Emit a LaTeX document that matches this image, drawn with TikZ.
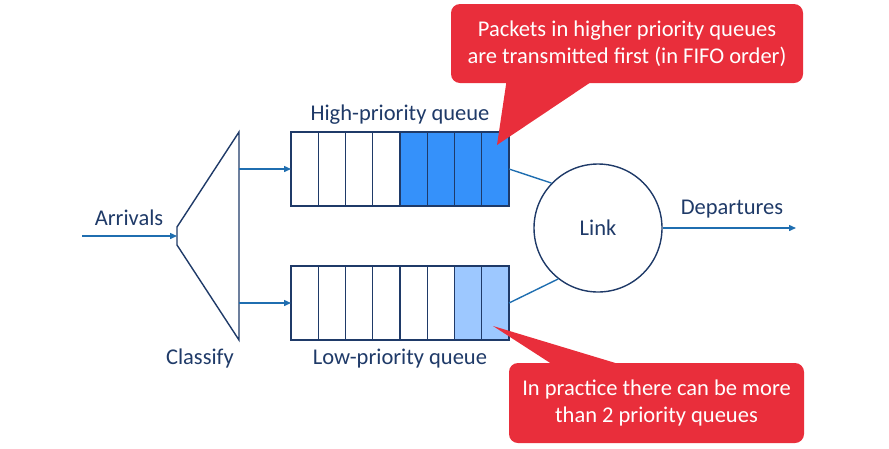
\documentclass[tikz,border=0pt]{standalone}
\usepackage{fontspec}
\setmainfont{Carlito}
\usetikzlibrary{positioning, arrows.meta, calc}
\definecolor{QueueNavy}{HTML}{1F3A68}
\definecolor{FlowBlue}{HTML}{1F6EB0}
\definecolor{HighBlue}{HTML}{3591FA}
\definecolor{LowBlue}{HTML}{9DC8FF}
\definecolor{NoteRed}{HTML}{E92E3B}

\begin{document}
\begin{tikzpicture}[
    x=1pt, y=-1pt,
    cell/.style={rectangle, draw=QueueNavy, line width=1.4pt, minimum width=27.25pt,
                 minimum height=74pt, inner sep=0pt, outer sep=0pt},
    flow/.style={-{Triangle[length=7pt, width=6pt]}, FlowBlue, line width=1.4pt},
    wire/.style={FlowBlue, line width=1.4pt},
    label/.style={font=\fontsize{22.5}{26}\selectfont, text=QueueNavy, inner sep=0pt},
    note/.style={rectangle, rounded corners=9pt, fill=NoteRed, text=white, align=center,
                 font=\fontsize{22.5}{27.5}\selectfont, inner sep=0pt}
]
  \useasboundingbox (0,0) rectangle (889,448);

  % Classifier
  \coordinate (ctop) at (239,132);
  \coordinate (cbot) at (239,340);
  \coordinate (cin) at (177,236);
  \coordinate (cout1) at (239,169);
  \coordinate (cout2) at (239,303);
  \draw[QueueNavy, line width=1.4pt] (ctop) -- (177,227) -- (177,245) -- (cbot) -- cycle;
  \coordinate (arrive) at (82,236);
  \draw[flow] (arrive) -- (cin);
  \node[label] (arrlab) at (129,218) {Arrivals};
  \node[label] (clslab) at (200,358) {Classify};

  % High-priority queue
  \foreach \i in {1,...,4}{
    \node[cell, fill=white] (h\i) at ({291+27.25*(\i-0.5)},169) {};
  }
  \foreach \i in {5,...,8}{
    \node[cell, fill=HighBlue] (h\i) at ({291+27.25*(\i-0.5)},169) {};
  }
  \node[label] (hlab) at (400,115) {High-priority queue};

  % Low-priority queue
  \foreach \i in {1,...,6}{
    \node[cell, fill=white] (l\i) at ({291+27.25*(\i-0.5)},303) {};
  }
  \foreach \i in {7,8}{
    \node[cell, fill=LowBlue] (l\i) at ({291+27.25*(\i-0.5)},303) {};
  }
  \node[label] (llab) at (400,359) {Low-priority queue};

  \draw[flow] (cout1) -- (h1.west);
  \draw[flow] (cout2) -- (l1.west);

  % Link
  \node[circle, draw=QueueNavy, line width=1.4pt, minimum size=128pt, inner sep=0pt,
        label] (link) at (598,228) {Link};
  \draw[wire] (h8.east) -- (link.136);
  \draw[wire] (l8.east) -- (link.232);
  \coordinate (depart) at (796,228);
  \draw[flow] (link.east) -- (depart);
  \node[label] (deplab) at (732,209) {Departures};

  % Callouts
  \node[note, minimum width=352pt, minimum height=79pt] (noteA) at (627,43.5)
    {Packets in higher priority queues\\are transmitted first (in FIFO order)};
  \coordinate (tipA) at (497,145);
  \fill[NoteRed] (507,78) -- (tipA) -- (597,78) -- cycle;

  \node[note, minimum width=295pt, minimum height=80pt] (noteB) at (656.5,403)
    {In practice there can be more\\than 2 priority queues};
  \coordinate (tipB) at (493,326);
  \fill[NoteRed] (558,368) -- (tipB) -- (632,368) -- cycle;
\end{tikzpicture}
\end{document}
